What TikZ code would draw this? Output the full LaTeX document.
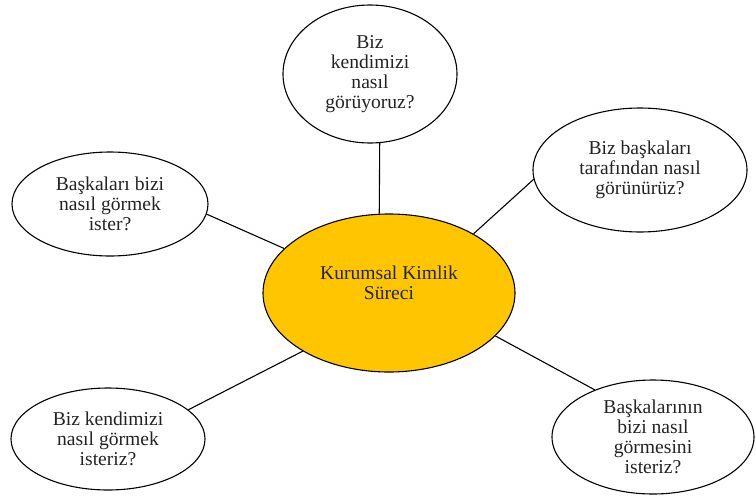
\documentclass[tikz,border=0pt]{standalone}
\usepackage{fontspec}
\setmainfont{Liberation Serif}
\usepackage{tikz}
\usetikzlibrary{shapes.geometric}
\definecolor{coregold}{RGB}{255,198,0}
\definecolor{inktext}{RGB}{35,35,35}

\begin{document}
\begin{tikzpicture}[x=1pt, y=-1pt, line width=1.1pt]
  \tikzset{bubble/.style 2 args={draw, ellipse, inner sep=0pt, align=center,
                                 minimum width=#1, minimum height=#2,
                                 text=inktext,
                                 font=\fontsize{19.6pt}{20pt}\selectfont}}
  \useasboundingbox (0,0) rectangle (756,496);

  \node[bubble={252pt}{158pt}, fill=coregold, text depth=20pt] (core)
       at (389,293) {Kurumsal Kimlik\\Süreci};

  \node[bubble={174pt}{138pt}] (selfview) at (370,74)
       {Biz\\kendimizi\\nasıl\\görüyoruz?};
  \node[bubble={214pt}{124pt}] (otherview) at (640,170)
       {Biz başkaları\\tarafından nasıl\\görünürüz?};
  \node[bubble={196pt}{104pt}] (otherwish) at (110,204)
       {Başkaları bizi\\nasıl görmek\\ister?};
  \node[bubble={194pt}{102pt}] (selfwish) at (108,439)
       {Biz kendimizi\\nasıl görmek\\isteriz?};
  \node[bubble={202pt}{114pt}] (ourwish) at (653,437)
       {Başkalarının\\bizi nasıl\\görmesini\\isteriz?};

  \draw (selfview.-82.6) -- (core.97.2);
  \draw (otherview.185.3) -- (core.35.3);
  \draw (otherwish.-6.4) -- (core.157);
  \draw (selfwish.20) -- (core.214.6);
  \draw (ourwish.141.2) -- (core.-22.9);
\end{tikzpicture}
\end{document}
